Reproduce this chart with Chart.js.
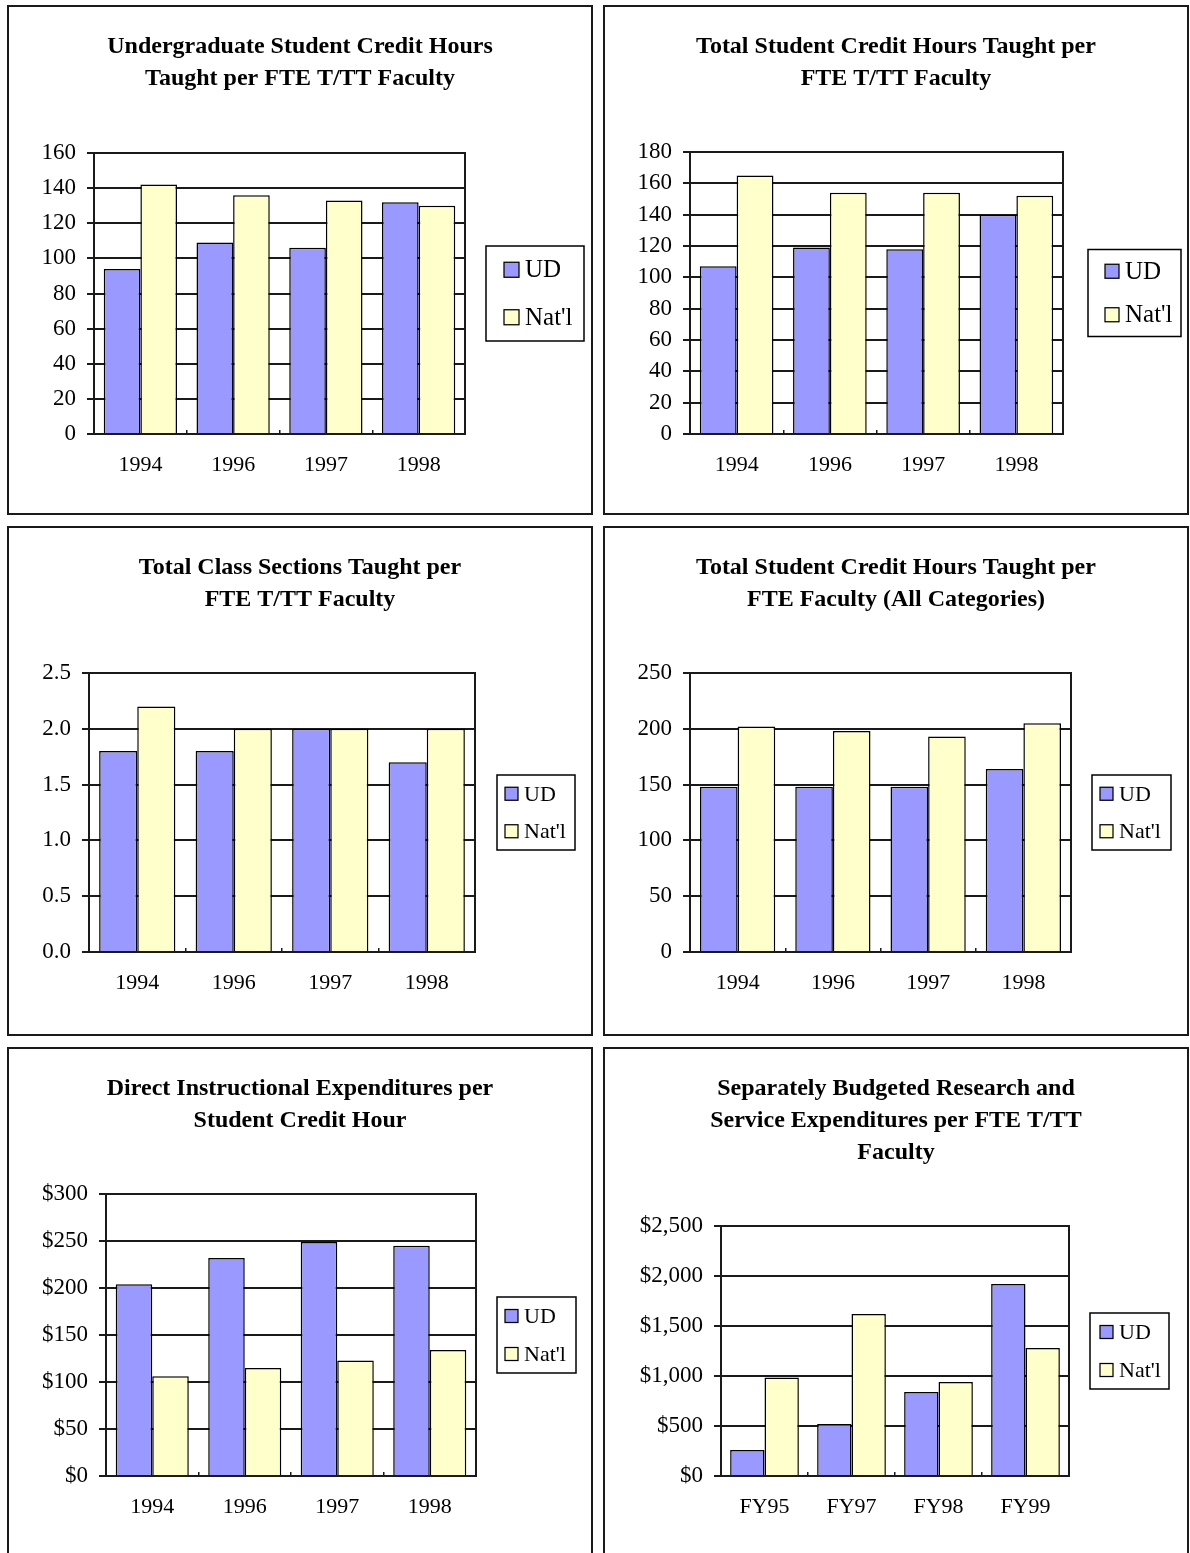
<!DOCTYPE html>
<html>
<head>
<meta charset="utf-8">
<title>Faculty Productivity and Expenditure Comparisons</title>
<script src="https://cdn.jsdelivr.net/npm/chart.js@4/dist/chart.umd.min.js"></script>
<style>
  html, body { margin: 0; padding: 0; background: #fff; overflow: hidden; }
  .panel {
    position: absolute;
    box-sizing: border-box;
    width: 586px;
    height: 510px;
    border: 2px solid #1a1a1a;
    background: #fff;
  }
  .panel canvas { display: block; }
</style>
</head>
<body>
<div class="panel" style="left:7px;top:5px"><canvas id="ugHours" width="582" height="506"></canvas></div>
<div class="panel" style="left:603px;top:5px"><canvas id="totalHours" width="582" height="506"></canvas></div>
<div class="panel" style="left:7px;top:526px"><canvas id="sections" width="582" height="506"></canvas></div>
<div class="panel" style="left:603px;top:526px"><canvas id="allHours" width="582" height="506"></canvas></div>
<div class="panel" style="left:7px;top:1047px"><canvas id="instrExp" width="582" height="506"></canvas></div>
<div class="panel" style="left:603px;top:1047px"><canvas id="researchExp" width="582" height="506"></canvas></div>

<script>
// ---- categories and series ----
const yearCategories = ['1994', '1996', '1997', '1998'];
const fiscalCategories = ['FY95', 'FY97', 'FY98', 'FY99'];
const seriesNames = ['UD', "Nat'l"];

// Undergraduate SCH per FTE T/TT faculty
const ugHoursTitle = ['Undergraduate Student Credit Hours', 'Taught per FTE T/TT Faculty'];
const ugHoursUD = [94, 109, 106, 132];
const ugHoursNatl = [142, 136, 133, 130];
const ugHoursAxis = [0, 160, 20];      // min, max, step

// Total SCH per FTE T/TT faculty
const totalHoursTitle = ['Total Student Credit Hours Taught per', 'FTE T/TT Faculty'];
const totalHoursUD = [107, 119, 118, 140];
const totalHoursNatl = [165, 154, 154, 152];
const totalHoursAxis = [0, 180, 20];

// Class sections per FTE T/TT faculty
const sectionsTitle = ['Total Class Sections Taught per', 'FTE T/TT Faculty'];
const sectionsUD = [1.8, 1.8, 2.0, 1.7];
const sectionsNatl = [2.2, 2.0, 2.0, 2.0];
const sectionsAxis = [0, 2.5, 0.5];

// Total SCH per FTE faculty, all categories
const allHoursTitle = ['Total Student Credit Hours Taught per', 'FTE Faculty (All Categories)'];
const allHoursUD = [148, 148, 148, 164];
const allHoursNatl = [202, 198, 193, 205];
const allHoursAxis = [0, 250, 50];

// Direct instructional expenditures per SCH
const instrExpTitle = ['Direct Instructional Expenditures per', 'Student Credit Hour'];
const instrExpUD = [204, 232, 249, 245];
const instrExpNatl = [106, 115, 123, 134];
const instrExpAxis = [0, 300, 50];

// Separately budgeted research & service expenditures per FTE T/TT faculty
const researchExpTitle = ['Separately Budgeted Research and', 'Service Expenditures per FTE T/TT', 'Faculty'];
const researchExpUD = [260, 520, 840, 1920];
const researchExpNatl = [985, 1620, 940, 1280];
const researchExpAxis = [0, 2500, 500];

// ---- styling ----
const FONT = "'Liberation Serif', 'Times New Roman', Times, serif";
const UD_FILL = '#9999FF';
const NATL_FILL = '#FFFFCC';
const INK = '#1a1a1a';

Chart.defaults.font.family = FONT;
Chart.defaults.color = '#000';

// Box drawn around the plot area (Excel-style frame)
const plotFrame = {
  id: 'plotFrame',
  beforeDatasetsDraw(chart) {
    const { ctx, chartArea: a } = chart;
    ctx.save();
    ctx.strokeStyle = INK;
    ctx.lineWidth = 2;
    ctx.strokeRect(a.left, a.top, a.right - a.left, a.bottom - a.top);
    ctx.restore();
  }
};

// Bordered legend to the right of the plot, vertically centred on it
const framedLegend = {
  id: 'framedLegend',
  afterDraw(chart, args, o) {
    const { ctx, chartArea: a } = chart;
    const x = a.right + o.gap;
    const y = (a.top + a.bottom) / 2 - o.height / 2;
    ctx.save();
    ctx.fillStyle = '#fff';
    ctx.fillRect(x, y, o.width, o.height);
    ctx.strokeStyle = '#000';
    ctx.lineWidth = 1.5;
    ctx.strokeRect(x, y, o.width, o.height);
    ctx.font = o.fontSize + 'px ' + FONT;
    ctx.textBaseline = 'middle';
    ctx.textAlign = 'left';
    const sets = chart.data.datasets;
    sets.forEach((ds, i) => {
      const cy = y + o.height * (2 * i + 1) / (2 * sets.length);
      const sx = x + o.padX;
      ctx.fillStyle = ds.backgroundColor;
      ctx.fillRect(sx, cy - o.swatch / 2, o.swatch, o.swatch);
      ctx.strokeStyle = '#000';
      ctx.lineWidth = 1.25;
      ctx.strokeRect(sx, cy - o.swatch / 2, o.swatch, o.swatch);
      ctx.fillStyle = '#000';
      ctx.fillText(ds.label, sx + o.swatch + 6, cy + 1);
    });
    ctx.restore();
  }
};

function makeChart(id, spec) {
  const [yMin, yMax, yStep] = spec.axis;
  return new Chart(document.getElementById(id), {
    type: 'bar',
    data: {
      labels: spec.labels,
      datasets: [
        { label: seriesNames[0], data: spec.ud, backgroundColor: UD_FILL,
          borderColor: '#000', borderWidth: 1.5 },
        { label: seriesNames[1], data: spec.natl, backgroundColor: NATL_FILL,
          borderColor: '#000', borderWidth: 1.5 }
      ]
    },
    options: {
      responsive: false,
      animation: false,
      devicePixelRatio: 1,
      events: [],
      datasets: { bar: { categoryPercentage: 0.79, barPercentage: 1.0 } },
      layout: { padding: 0 },
      plugins: {
        legend: { display: false },
        tooltip: { enabled: false },
        title: {
          display: true,
          text: spec.title,
          color: '#000',
          font: { family: FONT, size: 24, weight: 'bold', lineHeight: '32px' },
          padding: { top: 24, bottom: spec.titleGap }
        },
        framedLegend: spec.legend
      },
      scales: {
        x: {
          grid: { display: true, drawOnChartArea: false, drawTicks: true,
                  tickLength: -4, color: INK, lineWidth: 1.5 },
          border: { display: true, color: INK, width: 2 },
          ticks: { color: '#000', font: { family: FONT, size: 22 },
                   padding: 22, maxRotation: 0, autoSkip: false },
          afterFit(scale) { scale.height = spec.xAxisHeight; }
        },
        y: {
          min: yMin,
          max: yMax,
          grid: { color: INK, lineWidth: 2, tickLength: 7, drawTicks: true },
          border: { display: true, color: INK, width: 2 },
          ticks: { stepSize: yStep, color: '#000', font: { family: FONT, size: 23 },
                   padding: 11, callback: spec.format },
          afterFit(scale) { scale.width = spec.yAxisWidth; }
        },
        // empty right-hand strip that holds the legend box
        legendSpace: {
          type: 'linear',
          position: 'right',
          display: true,
          grid: { display: false },
          border: { display: false },
          ticks: { display: false },
          afterFit(scale) { scale.width = spec.rightPad; }
        }
      }
    },
    plugins: [plotFrame, framedLegend]
  });
}

const plain = v => String(v);
const oneDecimal = v => Number(v).toFixed(1);
const dollars = v => '$' + Number(v).toLocaleString('en-US');

makeChart('ugHours', {
  labels: yearCategories, title: ugHoursTitle, ud: ugHoursUD, natl: ugHoursNatl,
  axis: ugHoursAxis, format: plain,
  titleGap: 58, yAxisWidth: 85, xAxisHeight: 79, rightPad: 126,
  legend: { gap: 21, width: 98, height: 95, padX: 18, swatch: 15, fontSize: 25 }
});

makeChart('totalHours', {
  labels: yearCategories, title: totalHoursTitle, ud: totalHoursUD, natl: totalHoursNatl,
  axis: totalHoursAxis, format: plain,
  titleGap: 57, yAxisWidth: 85, xAxisHeight: 79, rightPad: 124,
  legend: { gap: 25, width: 93, height: 87, padX: 17, swatch: 14, fontSize: 25 }
});

makeChart('sections', {
  labels: yearCategories, title: sectionsTitle, ud: sectionsUD, natl: sectionsNatl,
  axis: sectionsAxis, format: oneDecimal,
  titleGap: 57, yAxisWidth: 80, xAxisHeight: 82, rightPad: 116,
  legend: { gap: 22, width: 78, height: 75, padX: 8, swatch: 13, fontSize: 22 }
});

makeChart('allHours', {
  labels: yearCategories, title: allHoursTitle, ud: allHoursUD, natl: allHoursNatl,
  axis: allHoursAxis, format: plain,
  titleGap: 57, yAxisWidth: 85, xAxisHeight: 82, rightPad: 116,
  legend: { gap: 21, width: 79, height: 75, padX: 8, swatch: 13, fontSize: 22 }
});

makeChart('instrExp', {
  labels: yearCategories, title: instrExpTitle, ud: instrExpUD, natl: instrExpNatl,
  axis: instrExpAxis, format: dollars,
  titleGap: 57, yAxisWidth: 97, xAxisHeight: 79, rightPad: 115,
  legend: { gap: 21, width: 79, height: 76, padX: 8, swatch: 13, fontSize: 22 }
});

makeChart('researchExp', {
  labels: fiscalCategories, title: researchExpTitle, ud: researchExpUD, natl: researchExpNatl,
  axis: researchExpAxis, format: dollars,
  titleGap: 57, yAxisWidth: 116, xAxisHeight: 79, rightPad: 118,
  legend: { gap: 21, width: 79, height: 76, padX: 10, swatch: 13, fontSize: 22 }
});
</script>
</body>
</html>
